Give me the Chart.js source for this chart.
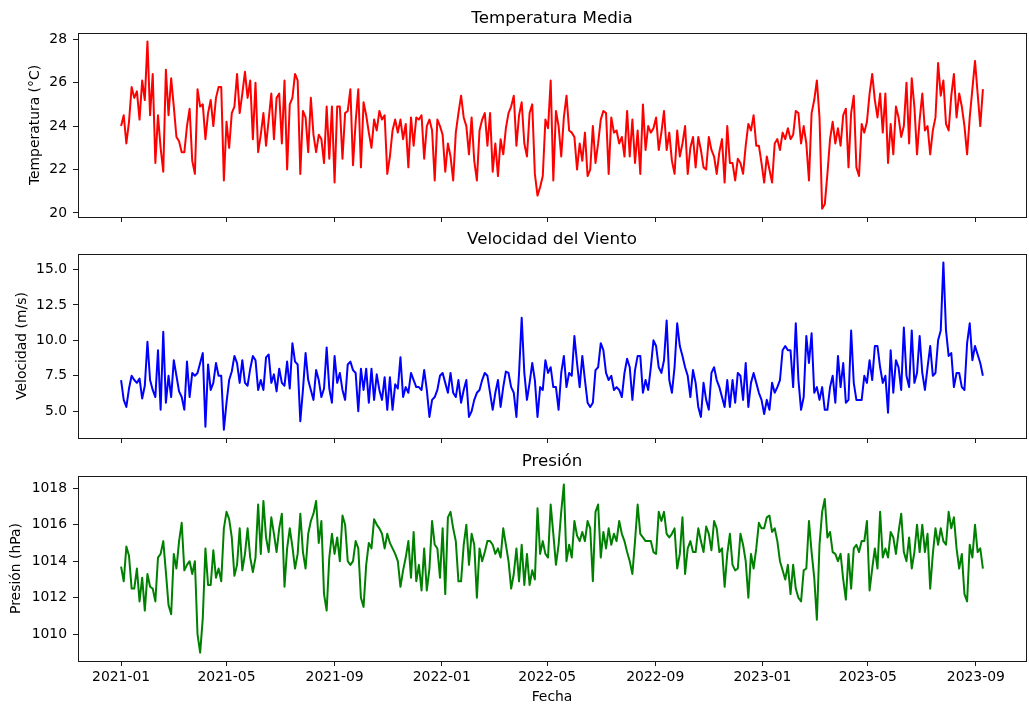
<!DOCTYPE html>
<html>
<head>
<meta charset="utf-8">
<script src="https://cdn.jsdelivr.net/npm/chart.js@4.4.1/dist/chart.umd.min.js"></script>
<style>
  html, body { margin: 0; padding: 0; background: #fff; }
  #wrap { position: relative; width: 1029px; height: 707px; overflow: hidden; }
  #wrap canvas { position: absolute; left: 0; top: 0; }
</style>
</head>
<body>
<div id="wrap">
  <canvas id="cTemp" width="1029" height="707"></canvas>
  <canvas id="cWind" width="1029" height="707"></canvas>
  <canvas id="cPres" width="1029" height="707"></canvas>
</div>
<script>
// Daily station record, one reading kept every 3 days from 2021-01-01
const startDate = '2021-01-01';
const stepDays = 3;

// Date axis labels (first day of each month shown)
const dateTickLabels = ['2021-01', '2021-05', '2021-09', '2022-01', '2022-05', '2022-09', '2023-01', '2023-05', '2023-09'];

// Temperatura media (°C)
const temperatura = [
  24.0, 24.5, 23.2, 24.2, 25.8, 25.3, 25.6, 24.3, 26.1, 25.2, 27.9, 24.5,
  26.4, 22.3, 24.5, 23.0, 21.9, 26.6, 24.5, 26.2, 24.9, 23.5, 23.3, 22.8,
  22.8, 24.0, 24.8, 22.4, 21.8, 25.7, 24.9, 25.0, 23.4, 24.6, 25.2, 24.0,
  25.3, 25.8, 25.8, 21.5, 24.2, 23.0, 24.6, 24.9, 26.4, 24.6, 25.5, 26.5,
  25.3, 26.1, 23.4, 26.0, 22.8, 23.6, 24.6, 23.1, 24.3, 25.5, 23.4, 25.3,
  25.5, 23.2, 26.1, 22.0, 25.0, 25.3, 26.4, 26.1, 21.8, 24.7, 24.4, 22.8,
  25.3, 23.6, 22.8, 23.6, 23.4, 22.3, 24.9, 22.5, 24.9, 21.4, 24.9, 24.9,
  22.5, 24.6, 24.7, 25.7, 22.2, 24.2, 25.7, 22.1, 25.1, 24.5, 23.7, 23.0,
  24.3, 23.8, 24.7, 24.3, 24.5, 21.8, 22.6, 23.8, 24.3, 23.7, 24.3, 23.4,
  24.1, 22.1, 24.4, 23.1, 24.4, 24.3, 24.5, 22.5, 24.0, 24.3, 23.8, 21.5,
  24.3, 24.0, 23.6, 21.9, 23.2, 22.6, 21.5, 23.7, 24.6, 25.4, 24.4, 24.0,
  22.7, 24.4, 22.4, 21.5, 23.8, 24.3, 24.6, 23.1, 24.6, 21.9, 23.2, 21.7,
  23.4, 22.7, 23.9, 24.6, 24.9, 25.4, 23.1, 24.5, 25.1, 23.2, 22.6, 24.6,
  25.0, 21.8, 20.8, 21.2, 21.7, 24.3, 23.9, 26.1, 21.5, 24.7, 24.0, 22.6,
  24.4, 25.4, 23.8, 23.7, 23.5, 22.0, 23.2, 22.4, 23.7, 21.7, 22.0, 24.0,
  22.3, 23.2, 24.3, 24.7, 24.6, 21.8, 24.4, 23.7, 23.8, 23.2, 23.5, 22.6,
  24.7, 22.6, 24.3, 22.3, 23.8, 21.8, 25.0, 22.9, 24.0, 23.7, 23.9, 24.4,
  22.9, 23.7, 24.7, 22.9, 23.7, 22.4, 21.8, 23.8, 22.6, 23.2, 24.0, 21.8,
  23.0, 23.5, 22.1, 23.5, 22.9, 22.1, 22.0, 23.5, 22.9, 22.6, 21.8, 22.8,
  23.4, 21.4, 24.0, 22.3, 22.3, 21.5, 22.5, 22.3, 21.8, 23.1, 24.1, 23.8,
  24.5, 23.1, 23.1, 22.3, 21.4, 22.6, 22.0, 21.4, 23.2, 23.4, 22.9, 23.7,
  23.4, 23.9, 23.4, 23.6, 24.7, 24.6, 23.2, 24.0, 23.2, 21.5, 24.6, 25.2,
  26.1, 24.4, 20.2, 20.4, 21.8, 23.4, 24.2, 23.2, 23.9, 23.1, 24.5, 24.8,
  22.1, 24.6, 25.4, 22.1, 21.7, 24.1, 23.7, 24.2, 25.5, 26.4, 25.2, 24.4,
  25.5, 23.7, 25.5, 22.3, 24.1, 22.7, 24.9, 24.4, 23.5, 24.0, 26.0, 23.2,
  26.2, 24.9, 22.7, 24.3, 25.5, 23.8, 24.0, 22.7, 23.8, 24.4, 26.9, 25.4,
  26.1, 24.1, 23.8, 25.4, 26.4, 24.4, 25.5, 24.9, 24.0, 22.7, 24.4, 25.7,
  27.0, 25.5, 24.0, 25.7
];

// Velocidad del viento (m/s)
const viento = [
  7.2, 5.8, 5.3, 6.6, 7.5, 7.2, 7.0, 7.3, 5.9, 6.8, 9.9, 7.2,
  6.5, 6.0, 9.3, 5.1, 10.6, 5.6, 7.5, 6.0, 8.6, 7.5, 6.4, 6.0,
  5.1, 8.5, 6.0, 7.7, 7.5, 7.7, 8.4, 9.1, 3.9, 8.3, 6.5, 7.0,
  8.4, 7.5, 7.5, 3.7, 5.6, 7.2, 7.8, 8.9, 8.4, 7.0, 8.6, 7.0,
  6.8, 8.0, 8.9, 8.6, 6.5, 7.2, 6.5, 8.8, 9.0, 7.0, 7.6, 6.4,
  8.0, 7.0, 6.8, 8.5, 6.6, 9.8, 8.5, 8.3, 4.3, 6.5, 9.1, 7.2,
  6.5, 5.8, 7.9, 7.2, 6.0, 6.6, 9.5, 6.6, 5.6, 8.9, 7.0, 7.7,
  6.5, 5.8, 8.3, 8.5, 7.9, 7.7, 5.0, 8.0, 6.5, 8.0, 5.6, 8.0,
  5.8, 7.6, 6.5, 5.8, 7.4, 5.1, 7.4, 5.1, 6.9, 6.6, 8.8, 6.0,
  6.7, 6.3, 7.7, 7.2, 6.7, 6.7, 6.5, 7.9, 6.5, 4.6, 5.8, 6.0,
  6.5, 7.5, 7.7, 7.0, 6.3, 7.7, 6.3, 6.0, 7.2, 5.6, 6.5, 7.2,
  4.6, 5.0, 5.8, 6.3, 6.5, 7.2, 7.7, 7.5, 6.3, 5.1, 6.3, 7.2,
  5.3, 6.7, 7.8, 7.7, 6.7, 6.3, 4.6, 7.7, 11.6, 7.7, 5.8, 7.0,
  8.4, 7.2, 4.6, 6.7, 6.5, 8.6, 7.7, 8.1, 6.7, 6.7, 5.1, 7.7,
  8.9, 6.7, 7.7, 7.5, 10.3, 8.4, 6.7, 8.9, 7.2, 5.6, 5.3, 5.6,
  7.9, 8.1, 9.8, 9.3, 7.7, 7.2, 7.5, 6.5, 6.7, 6.5, 6.0, 7.7,
  8.7, 8.1, 5.8, 7.9, 8.9, 8.9, 6.3, 7.2, 6.5, 8.1, 10.0, 9.6,
  8.1, 7.7, 8.6, 11.4, 7.2, 6.3, 8.1, 11.2, 9.6, 8.9, 8.1, 7.5,
  6.0, 7.9, 7.0, 5.3, 4.6, 7.0, 5.8, 5.1, 7.7, 8.1, 7.2, 6.7,
  6.0, 5.3, 7.2, 5.3, 7.2, 5.6, 7.7, 7.5, 5.8, 8.4, 5.3, 7.0,
  7.7, 7.0, 6.3, 5.8, 4.8, 5.8, 5.1, 7.0, 6.3, 6.7, 7.2, 9.3,
  9.6, 9.3, 9.3, 6.7, 11.2, 7.2, 5.1, 6.0, 10.3, 8.4, 10.5, 6.3,
  6.7, 5.8, 6.7, 5.1, 5.1, 6.7, 7.5, 5.6, 8.9, 6.7, 8.4, 5.6,
  5.8, 10.7, 7.0, 5.8, 5.8, 5.8, 7.5, 7.0, 8.6, 7.2, 9.6, 9.6,
  8.1, 7.0, 7.5, 4.9, 9.3, 6.3, 8.6, 8.1, 6.5, 10.9, 7.5, 6.7,
  10.7, 7.0, 7.7, 10.3, 7.7, 6.5, 8.1, 9.6, 7.5, 7.7, 10.0, 10.7,
  15.5, 10.7, 8.9, 9.1, 6.7, 7.7, 7.7, 6.7, 6.5, 9.8, 11.2, 8.6,
  9.6, 9.0, 8.4, 7.5
];

// Presión (hPa)
const presion = [
  1013.7, 1012.9, 1014.8, 1014.3, 1012.5, 1012.5, 1013.6, 1011.8, 1013.1, 1011.3, 1013.3, 1012.6,
  1012.5, 1011.8, 1014.2, 1014.4, 1015.1, 1013.4, 1011.6, 1011.1, 1014.4, 1013.6, 1015.1, 1016.1,
  1013.5, 1013.8, 1014.0, 1013.3, 1014.0, 1010.0, 1009.0, 1010.9, 1014.7, 1012.7, 1012.7, 1014.6,
  1013.1, 1013.6, 1012.9, 1015.8, 1016.7, 1016.3, 1015.3, 1013.2, 1013.8, 1015.8, 1013.5, 1014.4,
  1015.8, 1014.2, 1013.4, 1014.2, 1017.1, 1014.4, 1017.3, 1015.3, 1014.5, 1016.4, 1015.5, 1014.5,
  1015.8, 1016.6, 1012.6, 1014.7, 1015.8, 1014.8, 1013.6, 1014.4, 1016.6, 1014.5, 1013.6, 1015.5,
  1016.2, 1016.6, 1017.3, 1015.0, 1016.2, 1012.2, 1011.3, 1014.2, 1015.5, 1014.4, 1015.3, 1014.0,
  1016.5, 1016.0, 1014.0, 1013.8, 1014.0, 1015.1, 1014.7, 1012.0, 1011.5, 1013.8, 1015.0, 1014.7,
  1016.3, 1016.0, 1015.8, 1015.5, 1014.7, 1015.5, 1015.0, 1014.7, 1014.4, 1014.0, 1012.6, 1013.5,
  1014.2, 1015.1, 1013.1, 1015.6, 1012.9, 1013.8, 1012.4, 1014.7, 1012.4, 1013.6, 1016.2, 1014.9,
  1014.7, 1013.1, 1015.8, 1012.2, 1016.4, 1016.7, 1015.8, 1015.1, 1012.9, 1012.9, 1014.9, 1016.0,
  1013.8, 1015.5, 1014.9, 1012.0, 1014.7, 1014.0, 1014.5, 1015.1, 1015.1, 1014.9, 1014.4, 1014.7,
  1014.2, 1015.8, 1014.9, 1014.0, 1012.5, 1013.3, 1014.7, 1012.9, 1014.9, 1012.7, 1014.4, 1012.7,
  1013.5, 1013.0, 1016.9, 1014.4, 1015.1, 1014.4, 1014.2, 1017.1, 1015.5, 1013.8, 1014.9, 1016.7,
  1018.2, 1014.0, 1014.9, 1014.2, 1016.2, 1015.4, 1015.1, 1015.6, 1015.1, 1016.2, 1015.8, 1012.9,
  1016.7, 1017.1, 1014.2, 1015.6, 1014.7, 1015.8, 1014.9, 1015.5, 1015.1, 1016.2, 1015.5, 1015.1,
  1014.5, 1014.0, 1013.3, 1015.1, 1017.1, 1015.5, 1015.3, 1015.1, 1015.1, 1015.1, 1014.5, 1014.4,
  1016.7, 1016.2, 1016.7, 1015.5, 1015.3, 1015.5, 1015.8, 1013.6, 1014.4, 1016.4, 1013.3, 1014.7,
  1015.1, 1014.5, 1014.5, 1015.8, 1015.1, 1014.5, 1015.9, 1015.5, 1014.6, 1016.2, 1015.8, 1014.5,
  1014.7, 1012.6, 1014.4, 1015.5, 1013.8, 1013.5, 1013.6, 1015.5, 1014.9, 1014.0, 1012.0, 1014.4,
  1013.6, 1014.7, 1016.1, 1015.8, 1015.8, 1016.4, 1016.5, 1015.6, 1015.8, 1015.1, 1014.0, 1013.5,
  1013.0, 1013.8, 1012.2, 1013.8, 1012.5, 1012.0, 1011.8, 1013.5, 1013.6, 1016.2, 1014.5, 1013.1,
  1010.8, 1014.9, 1016.7, 1017.4, 1015.3, 1015.6, 1014.5, 1014.4, 1014.0, 1014.4, 1013.0, 1011.9,
  1014.4, 1012.5, 1014.7, 1014.9, 1014.5, 1015.1, 1015.1, 1016.2, 1012.4, 1013.6, 1014.7, 1013.6,
  1016.7, 1014.2, 1014.7, 1014.2, 1015.6, 1015.3, 1014.4, 1015.6, 1016.6, 1014.5, 1014.0, 1015.3,
  1013.6, 1014.5, 1016.0, 1014.5, 1016.0, 1014.5, 1015.5, 1012.5, 1014.4, 1015.8, 1014.9, 1015.8,
  1015.1, 1014.9, 1016.7, 1015.8, 1016.4, 1014.7, 1013.6, 1014.4, 1012.2, 1011.8, 1014.9, 1014.2,
  1016.0, 1014.5, 1014.7, 1013.6
];

// Value-axis tick marks
const tempTicks = [20, 22, 24, 26, 28];
const windTicks = [5, 7.5, 10, 12.5, 15];
const presTicks = [1010, 1012, 1014, 1016, 1018];

const FONT = "'DejaVu Sans', 'Liberation Sans', sans-serif";
const DAY_MS = 86400000;

function dayIndex(isoText) {
  const p = isoText.split('-').map(Number);
  const s = startDate.split('-').map(Number);
  return Math.round((Date.UTC(p[0], p[1] - 1, p[2] || 1) - Date.UTC(s[0], s[1] - 1, s[2])) / DAY_MS);
}

const xTickDays = dateTickLabels.map(dayIndex);

function toPoints(values) {
  return values.map((v, i) => ({ x: i * stepDays, y: v }));
}

// 5 % breathing room around the data, on both axes
function paddedRange(lo, hi) {
  const m = (hi - lo) * 0.05;
  return [lo - m, hi + m];
}

const lastDay = (temperatura.length - 1) * stepDays;
const xRange = paddedRange(0, lastDay);

// Full box around each plotting area
const framePlugin = {
  id: 'frame',
  afterDraw(chart) {
    const { ctx, chartArea: a } = chart;
    const l = Math.floor(a.left) + 0.5, t = Math.floor(a.top) + 0.5;
    const r = Math.floor(a.right) + 0.5, b = Math.floor(a.bottom) + 0.5;
    ctx.save();
    ctx.strokeStyle = '#1a1a1a';
    ctx.lineWidth = 1;
    ctx.strokeRect(l, t, r - l, b - t);
    ctx.restore();
  }
};

function makePanel(id, cfg) {
  const yRange = paddedRange(Math.min(...cfg.values), Math.max(...cfg.values));
  const tickFont = { family: FONT, size: 13.9 };
  const gridOpts = {
    drawOnChartArea: false, drawTicks: true, tickLength: 5,
    tickColor: '#1a1a1a', tickWidth: 1, lineWidth: 1
  };
  return new Chart(document.getElementById(id), {
    type: 'line',
    data: {
      datasets: [{
        data: toPoints(cfg.values),
        borderColor: cfg.color,
        borderWidth: 2,
        pointRadius: 0,
        tension: 0,
        fill: false,
        borderJoinStyle: 'round'
      }]
    },
    options: {
      responsive: false,
      animation: false,
      devicePixelRatio: 1,
      events: [],
      layout: { padding: cfg.padding },
      plugins: {
        legend: { display: false },
        tooltip: { enabled: false },
        title: {
          display: true,
          text: cfg.title,
          fullSize: false,
          color: '#000',
          font: { family: FONT, size: 16.7, weight: 'normal' },
          padding: { top: 9, bottom: 4 }
        }
      },
      scales: {
        x: {
          type: 'linear',
          min: xRange[0],
          max: xRange[1],
          afterBuildTicks: (s) => { s.ticks = xTickDays.map(v => ({ value: v })); },
          afterFit: (s) => { s.height = cfg.xHeight; },
          grid: gridOpts,
          border: { display: false },
          ticks: {
            display: cfg.showDates,
            autoSkip: false,
            maxRotation: 0,
            padding: 3.5,
            color: '#000',
            font: tickFont,
            callback: (v, i) => dateTickLabels[i]
          },
          title: {
            display: cfg.showDates,
            text: 'Fecha',
            color: '#000',
            font: tickFont,
            padding: { top: 0, bottom: 1.7 }
          }
        },
        y: {
          type: 'linear',
          min: yRange[0],
          max: yRange[1],
          afterBuildTicks: (s) => { s.ticks = cfg.ticks.map(v => ({ value: v })); },
          afterFit: (s) => { s.width = cfg.yWidth; },
          grid: gridOpts,
          border: { display: false },
          ticks: {
            padding: 6,
            color: '#000',
            font: tickFont,
            callback: cfg.format
          },
          title: {
            display: true,
            text: cfg.yLabel,
            color: '#000',
            font: tickFont,
            padding: { top: 4, bottom: 4 }
          }
        }
      }
    },
    plugins: [framePlugin]
  });
}

makePanel('cTemp', {
  title: 'Temperatura Media',
  yLabel: 'Temperatura (°C)',
  values: temperatura,
  color: '#ff0000',
  ticks: tempTicks,
  format: (v) => String(v),
  padding: { top: 0, bottom: 480, left: 22.7, right: 3 },
  yWidth: 55.3,
  xHeight: 10,
  showDates: false
});

makePanel('cWind', {
  title: 'Velocidad del Viento',
  yLabel: 'Velocidad (m/s)',
  values: viento,
  color: '#0000ff',
  ticks: windTicks,
  format: (v) => v.toFixed(1),
  padding: { top: 221, bottom: 259, left: 9.7, right: 3 },
  yWidth: 68.3,
  xHeight: 10,
  showDates: false
});

makePanel('cPres', {
  title: 'Presión',
  yLabel: 'Presión (hPa)',
  values: presion,
  color: '#008000',
  ticks: presTicks,
  format: (v) => String(v),
  padding: { top: 443, bottom: 0, left: 3.7, right: 3 },
  yWidth: 74.3,
  xHeight: 46,
  showDates: true
});
</script>
</body>
</html>
